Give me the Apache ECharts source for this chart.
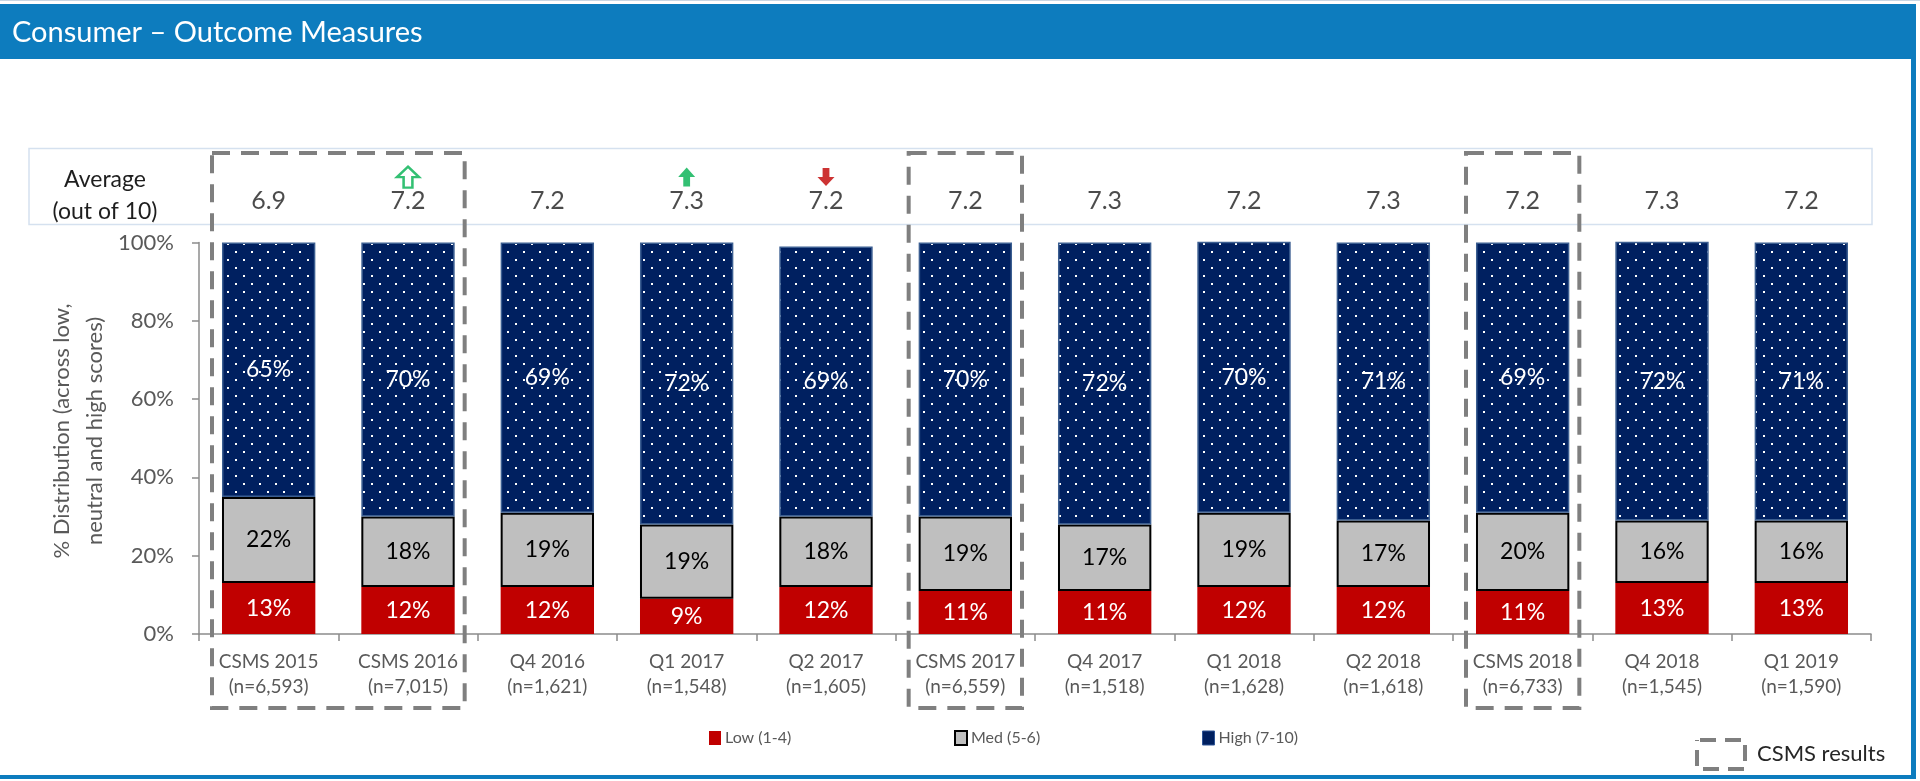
<!DOCTYPE html>
<html>
<head>
<meta charset="utf-8">
<title>Consumer – Outcome Measures</title>
<script src="https://cdn.jsdelivr.net/npm/echarts@6.0.0/dist/echarts.min.js"></script>
<style>
  html, body { margin: 0; padding: 0; background: #ffffff; }
  #chart { width: 1920px; height: 781px; }
</style>
</head>
<body>
<div id="chart"></div>
<script>
// ---- data ----
const categories = ['CSMS 2015', 'CSMS 2016', 'Q4 2016', 'Q1 2017', 'Q2 2017', 'CSMS 2017',
                    'Q4 2017', 'Q1 2018', 'Q2 2018', 'CSMS 2018', 'Q4 2018', 'Q1 2019'];
const sampleSizes = ['6,593', '7,015', '1,621', '1,548', '1,605', '6,559',
                     '1,518', '1,628', '1,618', '6,733', '1,545', '1,590'];
const lowPct  = [13, 12, 12,  9, 12, 11, 11, 12, 12, 11, 13, 13];
const medPct  = [22, 18, 19, 19, 18, 19, 17, 19, 17, 20, 16, 16];
const highPct = [65, 70, 69, 72, 69, 70, 72, 70, 71, 69, 72, 71];
const avgScore = ['6.9', '7.2', '7.2', '7.3', '7.2', '7.2', '7.3', '7.2', '7.3', '7.2', '7.3', '7.2'];
// significance markers on the average row
const avgShift = ['', 'upOpen', '', 'up', 'down', '', '', '', '', '', '', ''];
const yTicks = [0, 20, 40, 60, 80, 100];
const seriesNames = ['Low (1-4)', 'Med (5-6)', 'High (7-10)'];

// ---- styling ----
const FONT = 'Lato';
const BLUE = '#0D7CBE';
const RED = '#C00000';
const GREY = '#BFBFBF';
const NAVY = '#002060';
const GREEN = '#00B050';
const AXIS_TXT = '#595959';

// dotted navy fill for the "High" segments
function dotPattern() {
  const c = document.createElement('canvas');
  c.width = 16; c.height = 16;
  const g = c.getContext('2d');
  g.fillStyle = NAVY;
  g.fillRect(0, 0, 16, 16);
  g.fillStyle = '#ffffff';
  g.fillRect(3, 3, 2, 2);
  g.fillRect(11, 11, 2, 2);
  return c;
}

const ARROW_UP = 'path://M10,0 L20,10 L14,10 L14,20 L6,20 L6,10 L0,10 Z';
const ARROW_DOWN = 'path://M6,0 L14,0 L14,10 L20,10 L10,20 L0,10 L6,10 Z';
const shiftSymbols = {
  upOpen: { symbol: ARROW_UP, symbolSize: [22, 21], itemStyle: { color: '#ffffff', borderColor: GREEN, borderWidth: 2.5 } },
  up:     { symbol: ARROW_UP, symbolSize: [17, 19], itemStyle: { color: GREEN } },
  down:   { symbol: ARROW_DOWN, symbolSize: [17, 18], itemStyle: { color: RED } }
};

const chart = echarts.init(document.getElementById('chart'), null, { renderer: 'canvas' });

const VALUE_ROW = 0.32;   // vertical place of the averages inside the top strip
const ARROW_ROW = 0.63;

const barLabel = (color) => ({
  show: true, position: 'inside', color: color, fontFamily: FONT, fontSize: 23,
  formatter: (p) => p.value + '%'
});

const option = {
  animation: false,
  textStyle: { fontFamily: FONT },
  grid: [
    { left: 199, right: 49, top: 242.5, bottom: 147, outerBoundsMode: 'none', containLabel: false },
    { left: 199, right: 49, top: 149, height: 76, outerBoundsMode: 'none', containLabel: false }
  ],
  xAxis: [
    {
      type: 'category', gridIndex: 0, data: categories,
      axisLine: { show: true, lineStyle: { color: '#8C8C8C', width: 1.5 } },
      axisTick: { show: true, length: 7, alignWithLabel: false, lineStyle: { color: '#8C8C8C', width: 1.5 } },
      axisLabel: {
        color: AXIS_TXT, fontFamily: FONT, fontSize: 19, lineHeight: 25, margin: 15,
        formatter: (v, i) => v + '\n(n=' + sampleSizes[i] + ')'
      }
    },
    { type: 'category', gridIndex: 1, data: categories, show: false }
  ],
  yAxis: [
    {
      type: 'value', gridIndex: 0, min: yTicks[0], max: yTicks[yTicks.length - 1],
      interval: yTicks[1] - yTicks[0],
      axisLine: { show: true, lineStyle: { color: '#8C8C8C', width: 1.5 } },
      axisTick: { show: true, length: 7, lineStyle: { color: '#8C8C8C', width: 1.5 } },
      splitLine: { show: false },
      axisLabel: { color: AXIS_TXT, fontFamily: FONT, fontSize: 22, margin: 25, formatter: '{value}%' }
    },
    { type: 'value', gridIndex: 1, min: 0, max: 1, show: false }
  ],
  legend: [
    {
      left: 704, top: 725, itemWidth: 12, itemHeight: 14, selectedMode: false,
      textStyle: { color: AXIS_TXT, fontFamily: FONT, fontSize: 16, padding: [0, 0, 0, -1] },
      data: [{ name: seriesNames[0], icon: 'rect', itemStyle: { color: RED } }]
    },
    {
      left: 949, top: 725, itemWidth: 12, itemHeight: 14, selectedMode: false,
      textStyle: { color: AXIS_TXT, fontFamily: FONT, fontSize: 16, padding: [0, 0, 0, -1] },
      data: [{ name: seriesNames[1], icon: 'rect', itemStyle: { color: GREY, borderColor: '#000', borderWidth: 2 } }]
    },
    {
      left: 1197, top: 725, itemWidth: 12, itemHeight: 14, selectedMode: false,
      textStyle: { color: AXIS_TXT, fontFamily: FONT, fontSize: 16, padding: [0, 0, 0, -1] },
      data: [{ name: seriesNames[2], icon: 'rect', itemStyle: { color: NAVY, borderColor: '#2F5597', borderWidth: 1 } }]
    }
  ],
  series: [
    {
      name: seriesNames[0], type: 'bar', stack: 'dist', barWidth: '67%',
      xAxisIndex: 0, yAxisIndex: 0, data: lowPct,
      itemStyle: { color: RED },
      label: barLabel('#ffffff')
    },
    {
      name: seriesNames[1], type: 'bar', stack: 'dist', barWidth: '67%',
      xAxisIndex: 0, yAxisIndex: 0, data: medPct,
      itemStyle: { color: GREY, borderColor: '#000000', borderWidth: 2 },
      label: barLabel('#000000')
    },
    {
      name: seriesNames[2], type: 'bar', stack: 'dist', barWidth: '67%',
      xAxisIndex: 0, yAxisIndex: 0, data: highPct,
      itemStyle: { color: { image: dotPattern(), repeat: 'repeat' }, borderColor: '#3B5E91', borderWidth: 1.5 },
      label: barLabel('#ffffff')
    },
    {
      name: 'Average', type: 'scatter', xAxisIndex: 1, yAxisIndex: 1, silent: true,
      symbolSize: 0.1, itemStyle: { color: 'rgba(0,0,0,0)' },
      data: avgScore.map((s, i) => [i, VALUE_ROW]),
      label: {
        show: true, position: 'inside', color: '#1E1E1E', fontFamily: FONT, fontSize: 25,
        formatter: (p) => avgScore[p.dataIndex]
      }
    },
    {
      name: 'Change', type: 'scatter', xAxisIndex: 1, yAxisIndex: 1, silent: true,
      data: avgShift.map((s, i) => s ? Object.assign({ value: [i, ARROW_ROW] }, shiftSymbols[s]) : null)
                    .filter(Boolean)
    }
  ]
};

chart.setOption(option);

// ---- frame, titles and dashed CSMS boxes ----
function csmsGroups() {
  const groups = [];
  categories.forEach((c, i) => {
    if (c.indexOf('CSMS') !== 0) return;
    const last = groups[groups.length - 1];
    if (last && last[1] === i - 1) last[1] = i; else groups.push([i, i]);
  });
  return groups;
}

const c0 = chart.convertToPixel({ xAxisIndex: 0 }, categories[0]);
const c1 = chart.convertToPixel({ xAxisIndex: 0 }, categories[1]);
const band = c1 - c0;
const inset = 13;
const dashStyle = { fill: 'none', stroke: '#7F7F7F', lineWidth: 4, lineDash: [18, 11] };

const graphics = [
  { type: 'rect', silent: true, shape: { x: 0, y: 0, width: 1920, height: 1 }, style: { fill: '#C9D6E3' } },
  { type: 'rect', silent: true, shape: { x: 0, y: 4, width: 1916, height: 55 }, style: { fill: BLUE } },
  { type: 'text', silent: true, x: 12, y: 33,
    style: { text: 'Consumer – Outcome Measures', fill: '#ffffff', font: '29px ' + FONT, verticalAlign: 'middle' } },
  { type: 'rect', silent: true, shape: { x: 1911, y: 4, width: 5, height: 775 }, style: { fill: BLUE } },
  { type: 'rect', silent: true, shape: { x: 0, y: 775, width: 1916, height: 4 }, style: { fill: BLUE } },
  // average strip
  { type: 'rect', silent: true, shape: { x: 29, y: 148.5, width: 1843, height: 76 },
    style: { fill: 'none', stroke: '#D5E1EF', lineWidth: 1.5 } },
  { type: 'text', silent: true, x: 105, y: 180,
    style: { text: 'Average', fill: '#1E1E1E', font: '23px ' + FONT, align: 'center', verticalAlign: 'middle' } },
  { type: 'text', silent: true, x: 105, y: 212,
    style: { text: '(out of 10)', fill: '#1E1E1E', font: '23px ' + FONT, align: 'center', verticalAlign: 'middle' } },
  // y axis title
  { type: 'text', silent: true, x: 78, y: 431, rotation: Math.PI / 2,
    style: { text: '% Distribution (across low,\nneutral and high scores)', fill: AXIS_TXT,
             font: '22px ' + FONT, lineHeight: 33, align: 'center', verticalAlign: 'middle' } },
  // CSMS key
  { type: 'rect', silent: true, shape: { x: 1697, y: 740, width: 48, height: 29 },
    style: { fill: 'none', stroke: '#7F7F7F', lineWidth: 4, lineDash: [16, 9], lineDashOffset: -3 } },
  { type: 'text', silent: true, x: 1757, y: 754,
    style: { text: 'CSMS results', fill: '#262626', font: '22px ' + FONT, verticalAlign: 'middle' } }
];

csmsGroups().forEach(([a, b]) => {
  const xa = chart.convertToPixel({ xAxisIndex: 0 }, categories[a]) - band / 2 + inset;
  const xb = chart.convertToPixel({ xAxisIndex: 0 }, categories[b]) + band / 2 - inset;
  graphics.push({ type: 'rect', silent: true, z: 100,
    shape: { x: xa, y: 153, width: xb - xa, height: 555 }, style: dashStyle });
});

chart.setOption({ graphic: graphics });
</script>
</body>
</html>
